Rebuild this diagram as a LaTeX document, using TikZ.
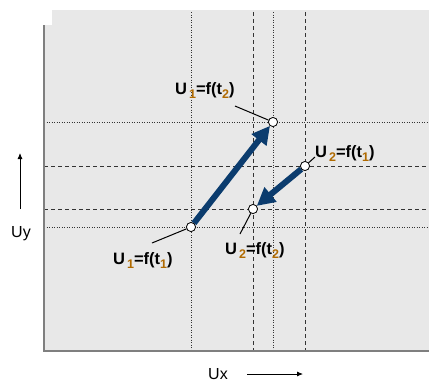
\documentclass[tikz,border=0pt]{standalone}
\usepackage{fontspec}
\setmainfont{Liberation Sans}
\usetikzlibrary{arrows.meta}
\definecolor{bg}{HTML}{E8E8E8}
\definecolor{axisgray}{HTML}{7F7F7F}
\definecolor{navy}{HTML}{0B3C6E}
\definecolor{subc}{HTML}{B06A00}
\newcommand{\sbs}[1]{\raisebox{-4pt}{\fontsize{12.5}{13}\selectfont\textcolor{subc}{#1}}}
\tikzset{
  dotline/.style={line width=0.9pt, black!80, dash pattern=on 0.9pt off 1.6pt},
  dashline/.style={line width=0.9pt, black!80, dash pattern=on 4pt off 3pt},
  pt/.style={circle, draw=black, fill=white, line width=0.7pt, minimum size=9pt, inner sep=0pt},
  bigarrow/.style={navy, line width=6pt, -{Triangle[length=18pt,width=18pt]}},
  lbl/.style={font=\fontsize{16.5}{17}\selectfont\bfseries, inner sep=0pt},
  leader/.style={line width=1pt, black},
  axlbl/.style={font=\fontsize{16}{17}\selectfont, inner sep=0pt},
  smallarrow/.style={line width=0.8pt, -{Latex[length=6pt,width=5pt]}}
}
\begin{document}
\begin{tikzpicture}[x=1pt,y=-1pt]
\useasboundingbox (0,0) rectangle (429,381);
\fill[white] (0,0) rectangle (429,381);
\fill[bg] (44,10) rectangle (429,350);
\fill[white] (42,9) rectangle (52,25);
% grid lines
\draw[dotline] (191,12) -- (191,350);
\draw[dashline] (253,12) -- (253,350);
\draw[dotline] (273,12) -- (273,350);
\draw[dashline] (305,12) -- (305,350);
\draw[dotline] (44,122) -- (429,122);
\draw[dashline] (44,166) -- (429,166);
\draw[dashline] (44,209) -- (429,209);
\draw[dotline] (44,227) -- (429,227);
% axes
\draw[axisgray, line width=2pt] (43.5,25) -- (43.5,350.5) -- (429,350.5);
% points
\node[pt] (p1) at (191,227) {};
\node[pt] (p2) at (273,122) {};
\node[pt] (p3) at (305,166) {};
\node[pt] (p4) at (253,209) {};
% arrows
\draw[bigarrow] (p1) -- (p2);
\draw[bigarrow] (p3) -- (p4);
\node[pt] at (191,227) {};
\node[pt] at (273,122) {};
\node[pt] at (305,166) {};
\node[pt] at (253,209) {};
% labels
\node[lbl, anchor=base west] (l2) at (175,94) {U\hspace{2pt}\sbs{1}=f(t\sbs{2})};
\node[lbl, anchor=base west] (l3) at (315,157) {U\hspace{2pt}\sbs{2}=f(t\sbs{1})};
\node[lbl, anchor=base west] (l1) at (113,264) {U\hspace{2pt}\sbs{1}=f(t\sbs{1})};
\node[lbl, anchor=base west] (l4) at (225,254) {U\hspace{2pt}\sbs{2}=f(t\sbs{2})};
\coordinate (c2) at (235,106);
\coordinate (c3) at (315,157);
\coordinate (c1) at (152,243);
\coordinate (c4) at (240,234);
\draw[leader] (c2) -- (p2);
\draw[leader] (c3) -- (p3);
\draw[leader] (c1) -- (p1);
\draw[leader] (c4) -- (p4);
% axis labels
\node[axlbl] (uy) at (21,234) {Uy};
\coordinate (uya) at (20,209);
\coordinate (uyb) at (20,153);
\draw[smallarrow] (uya) -- (uyb);
\node[axlbl, anchor=base] (ux) at (218,379) {Ux};
\coordinate (uxa) at (247,374);
\coordinate (uxb) at (303,374);
\draw[smallarrow] (uxa) -- (uxb);
\end{tikzpicture}
\end{document}
